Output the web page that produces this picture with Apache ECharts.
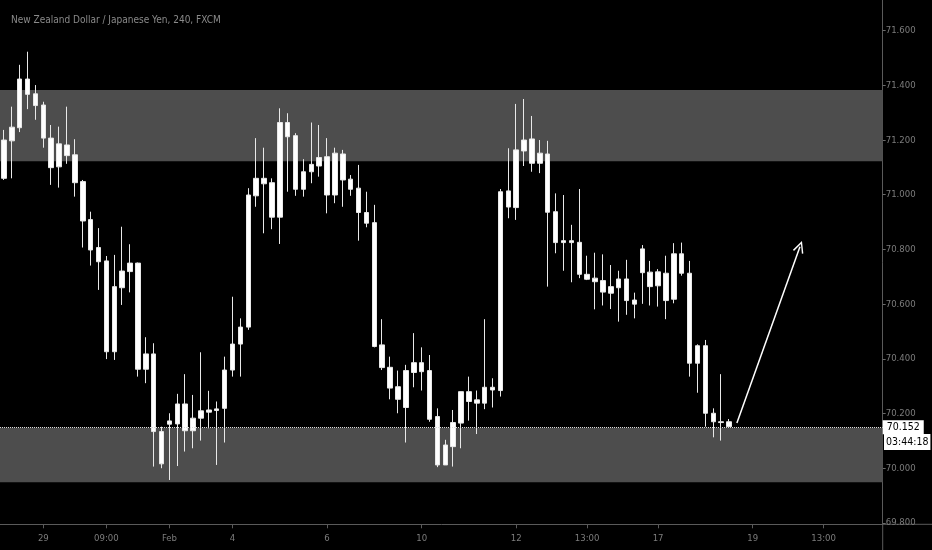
<!DOCTYPE html>
<html lang="en">
<head>
  <meta charset="UTF-8">
  <title>NZDJPY 240</title>
  <script src="https://cdn.jsdelivr.net/npm/echarts@6/dist/echarts.min.js"></script>
  <style>
    html, body { margin: 0; padding: 0; background: #000; }
    #chart { width: 932px; height: 550px; }
  </style>
</head>
<body>
<div id="chart"></div>
<script>
  // 4H candles (open, close, low, high)
  var opens  = [71.060,71.197,71.245,71.423,71.369,71.328,71.207,71.102,71.182,71.146,
                71.048,70.909,70.807,70.758,70.426,70.660,70.719,70.750,70.362,70.418,
                70.134,70.161,70.162,70.235,70.137,70.183,70.205,70.217,70.219,70.359,
                70.454,70.516,70.996,71.060,71.044,70.918,71.264,71.216,71.020,71.084,
                71.105,71.139,70.999,71.149,71.057,71.024,70.935,70.898,70.451,70.369,
                70.298,70.222,70.350,70.386,70.357,70.189,70.012,70.079,70.165,70.280,
                70.250,70.238,70.296,70.284,71.014,70.953,71.160,71.204,71.115,71.149,
                70.938,70.825,70.832,70.826,70.709,70.695,70.686,70.640,70.660,70.692,
                70.615,70.715,70.717,70.667,70.713,70.618,70.784,70.713,70.384,70.448,
                70.201,70.170,70.170];
  var closes = [71.200,71.247,71.423,71.367,71.326,71.207,71.099,71.186,71.143,71.044,
                70.904,70.798,70.755,70.426,70.664,70.721,70.750,70.362,70.418,70.134,
                70.016,70.173,70.235,70.137,70.183,70.210,70.213,70.211,70.359,70.454,
                70.516,70.999,71.060,71.040,70.918,71.264,71.212,71.020,71.084,71.111,
                71.136,70.999,71.152,71.054,71.020,70.935,70.896,70.445,70.368,70.293,
                70.252,70.357,70.386,70.353,70.179,70.012,70.085,70.167,70.280,70.244,
                70.238,70.296,70.286,71.011,70.955,71.164,71.200,71.115,71.152,70.936,
                70.825,70.832,70.825,70.709,70.691,70.682,70.644,70.664,70.692,70.613,
                70.600,70.802,70.664,70.718,70.613,70.784,70.713,70.384,70.448,70.201,
                70.170,70.167,70.152];
  var lows   = [71.054,71.060,71.229,71.313,71.274,71.172,71.036,71.026,71.113,70.993,
                70.807,70.741,70.652,70.399,70.396,70.597,70.643,70.335,70.311,70.006,
                70.000,69.957,70.008,70.061,70.073,70.101,70.146,70.012,70.094,70.335,
                70.335,70.506,70.956,70.859,70.874,70.820,71.011,70.996,70.993,71.042,
                71.066,70.932,70.969,70.956,70.996,70.832,70.881,70.442,70.359,70.252,
                70.201,70.094,70.296,70.284,70.170,70.004,70.012,70.006,70.073,70.174,
                70.125,70.216,70.222,70.262,70.914,70.908,71.105,71.084,71.079,70.664,
                70.786,70.722,70.680,70.695,70.688,70.581,70.595,70.582,70.536,70.561,
                70.548,70.601,70.595,70.591,70.545,70.603,70.704,70.335,70.276,70.152,
                70.113,70.101,70.150];
  var highs  = [71.237,71.322,71.475,71.523,71.401,71.340,71.255,71.249,71.322,71.203,
                71.054,70.938,70.878,70.776,70.780,70.883,70.819,70.752,70.479,70.457,
                70.152,70.201,70.272,70.344,70.268,70.424,70.283,70.244,70.408,70.627,
                70.548,71.024,71.207,71.172,71.060,71.316,71.298,71.225,71.130,71.264,
                71.255,71.207,71.172,71.164,71.072,71.109,71.011,70.963,70.545,70.408,
                70.357,70.378,70.494,70.442,70.414,70.219,70.104,70.213,70.280,70.335,
                70.284,70.545,70.329,71.021,71.170,71.332,71.350,71.288,71.200,71.197,
                71.005,70.999,70.890,71.021,70.777,70.788,70.782,70.743,70.722,70.762,
                70.642,70.816,70.758,70.728,70.777,70.823,70.825,70.758,70.453,70.469,
                70.219,70.344,70.180];

  // time axis: 112 slots, labels only at a few of them
  var slotCount = 112;
  var labelIndex = [5, 13, 21, 29, 41, 53, 65, 74, 83, 95, 104];
  var labelText  = ['29', '09:00', 'Feb', '4', '6', '10', '12', '13:00', '17', '19', '13:00'];

  var supplyZone = [71.122, 71.383];
  var demandZone = [69.949, 70.148];
  var lastPrice = 70.152;
  var countdown = '03:44:18';
  var arrowFrom = [93, 70.165];
  var arrowTo = [101, 70.81];

  var categories = [];
  for (var i = 0; i < slotCount; i++) categories.push('');
  labelIndex.forEach(function (idx, k) { categories[idx] = labelText[k]; });

  var candles = opens.map(function (o, i) {
    return [o, closes[i], lows[i], highs[i]];
  });

  var axisFont = 'DejaVu Sans Condensed, Liberation Sans Narrow, sans-serif';
  var showLabel = function (index, value) { return value !== ''; };

  var chart = echarts.init(document.getElementById('chart'), null, { width: 932, height: 550 });

  var option = {
    backgroundColor: '#000',
    animation: false,
    title: {
      text: 'New Zealand Dollar / Japanese Yen, 240, FXCM',
      left: 6,
      top: 10,
      textStyle: { color: '#8a8a8a', fontSize: 10, fontWeight: 'normal', fontFamily: axisFont }
    },
    grid: { left: -5.5, right: 49.3, top: 0, bottom: 25.7 },
    xAxis: {
      type: 'category',
      data: categories,
      boundaryGap: true,
      axisLine: { lineStyle: { color: '#5a5a5a' } },
      axisTick: { show: true, interval: showLabel, alignWithLabel: true, length: 4, lineStyle: { color: '#5a5a5a' } },
      axisLabel: { interval: showLabel, color: '#7c7c7c', fontSize: 9.5, fontFamily: axisFont, margin: 9 },
      splitLine: { show: false }
    },
    yAxis: {
      type: 'value',
      position: 'right',
      scale: true,
      min: 69.795,
      max: 71.712,
      minInterval: 0.2,
      maxInterval: 0.2,
      axisLine: { show: true, lineStyle: { color: '#5a5a5a' } },
      axisTick: { show: true, length: 3, lineStyle: { color: '#6a6a6a' } },
      axisLabel: {
        color: '#7c7c7c', fontSize: 9.5, fontFamily: axisFont, margin: 3,
        showMinLabel: false, showMaxLabel: false,
        formatter: function (v) { return v.toFixed(3); }
      },
      splitLine: { show: false }
    },
    series: [{
      type: 'candlestick',
      data: candles,
      barWidth: 5,
      itemStyle: {
        color: '#ffffff', color0: '#ffffff',
        borderColor: '#e8e8e8', borderColor0: '#e8e8e8',
        borderWidth: 1
      },
      markArea: {
        silent: true,
        itemStyle: { color: '#4d4d4d' },
        data: [
          [{ yAxis: supplyZone[0] }, { yAxis: supplyZone[1] }],
          [{ yAxis: demandZone[0] }, { yAxis: demandZone[1] }]
        ]
      },
      markLine: {
        silent: true,
        symbol: ['none', 'none'],
        data: [
          {
            yAxis: lastPrice,
            lineStyle: { type: 'dotted', color: '#dddddd', width: 1 },
            label: {
              show: true,
              position: 'end',
              distance: 0,
              formatter: lastPrice.toFixed(3),
              backgroundColor: '#ffffff',
              color: '#000',
              fontSize: 10.5,
              fontFamily: axisFont,
              padding: [2, 4, 1, 4]
            }
          },
          [
            { coord: arrowFrom, symbol: 'none' },
            { coord: arrowTo, symbol: 'path://M0,12 L6,0 L12,12 L10.6,12.7 L6,3.2 L1.4,12.7 Z', symbolSize: [11, 12] }
          ]
        ],
        lineStyle: { type: 'solid', color: '#ffffff', width: 1.5 },
        label: { show: false }
      }
    }],
    graphic: [
      { type: 'line', shape: { x1: 882.7, y1: 524.3, x2: 932, y2: 524.3 }, style: { stroke: '#5a5a5a', lineWidth: 1 } },
      { type: 'line', shape: { x1: 882.7, y1: 524.3, x2: 882.7, y2: 550 }, style: { stroke: '#5a5a5a', lineWidth: 1 } },
      {
        type: 'text', left: 884, top: 434,
        style: {
          text: countdown, fill: '#000', backgroundColor: '#ffffff',
          padding: [3, 2, 2, 2], font: '10.5px ' + axisFont
        }
      }
    ]
  };

  chart.setOption(option);
</script>
</body>
</html>
